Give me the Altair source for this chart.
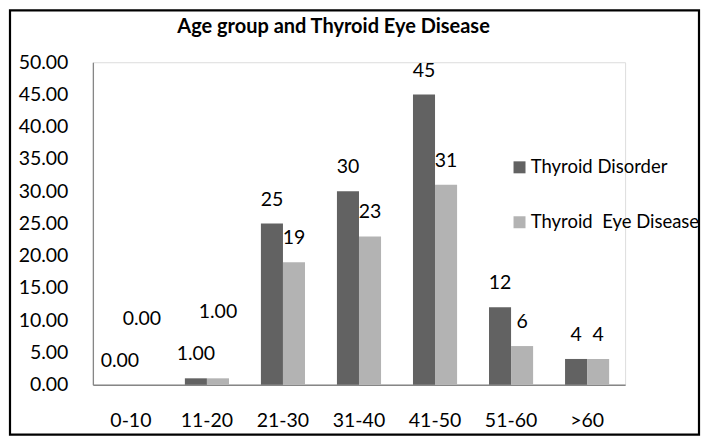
import altair as alt
import pandas as pd

age_groups = ["0-10", "11-20", "21-30", "31-40", "41-50", "51-60", ">60"]
series_names = ["Thyroid Disorder", "Thyroid\u00a0 Eye Disease"]
disorder_values = [0, 1, 25, 30, 45, 12, 4]
eye_values = [0, 1, 19, 23, 31, 6, 4]
disorder_labels = ["0.00", "1.00", "25", "30", "45", "12", "4"]
eye_labels = ["0.00", "1.00", "19", "23", "31", "6", "4"]
eye_label_raised = [True, True, False, False, False, False, False]
y_ticks = [0, 5, 10, 15, 20, 25, 30, 35, 40, 45, 50]
title_text = "Age group and Thyroid Eye Disease"
colors = ["#626262", "#b3b3b3"]

rows = []
for i, g in enumerate(age_groups):
    rows.append({"age": g, "series": series_names[0], "value": disorder_values[i],
                 "label": disorder_labels[i], "raised": False})
    rows.append({"age": g, "series": series_names[1], "value": eye_values[i],
                 "label": eye_labels[i], "raised": eye_label_raised[i]})
df = pd.DataFrame(rows)

FONT = "Lato"
FS = 19.5

x_enc = alt.X("age:N", sort=age_groups,
              scale=alt.Scale(paddingInner=0.42, paddingOuter=0.21),
              axis=alt.Axis(title=None, labelAngle=0, ticks=False, labelPadding=36,
                            labelBaseline="middle",
                            domainColor="#868686", domainWidth=1.3,
                            labelFont=FONT, labelFontSize=FS, labelColor="black"))
xoff = alt.XOffset("series:N", sort=series_names, scale=alt.Scale(paddingInner=0))
y_enc = alt.Y("value:Q", scale=alt.Scale(domain=[0, 50], nice=False),
              axis=alt.Axis(title=None, values=y_ticks, format=".2f", ticks=False,
                            grid=False, labelPadding=25, labelOverlap=False,
                            domainColor="#868686",
                            domainWidth=1.3, labelFont=FONT, labelFontSize=FS,
                            labelColor="black"))

base = alt.Chart(df)

bars = base.mark_bar().encode(
    x=x_enc, xOffset=xoff, y=y_enc,
    color=alt.Color("series:N", sort=series_names,
                    scale=alt.Scale(domain=series_names, range=colors),
                    legend=alt.Legend(title=None, orient="none", legendX=418, legendY=96,
                                      symbolType="square", symbolSize=144,
                                      symbolStrokeWidth=0, labelFont=FONT,
                                      labelFontSize=18.5, labelColor="black", labelLimit=400,
                                      rowPadding=36, labelOffset=2, padding=0)),
)

labels_normal = base.transform_filter("!datum.raised").mark_text(
    dy=-24, font=FONT, fontSize=FS, color="black", baseline="middle"
).encode(x=x_enc, xOffset=xoff, y=y_enc, text="label:N")

labels_raised = base.transform_filter("datum.raised").mark_text(
    dy=-66, font=FONT, fontSize=FS, color="black", baseline="middle"
).encode(x=x_enc, xOffset=xoff, y=y_enc, text="label:N")

title = alt.Chart(pd.DataFrame({"t": [title_text]})).mark_text(
    font=FONT, fontSize=20, fontWeight="bold", color="black",
    align="center", baseline="middle"
).encode(x=alt.value(241), y=alt.value(-35), text="t:N")

frame = alt.Chart(pd.DataFrame({"f": [0]})).mark_rect(
    fill=None, stroke="black", strokeWidth=2.2
).encode(x=alt.value(-83), x2=alt.value(607), y=alt.value(-52), y2=alt.value(373))

chart = alt.layer(bars, labels_normal, labels_raised, title, frame).properties(
    width=533, height=323, padding=0,
).configure_view(stroke=None).configure(background="white")

chart.save("out.html", embed_options={"renderer": "svg", "actions": False})
